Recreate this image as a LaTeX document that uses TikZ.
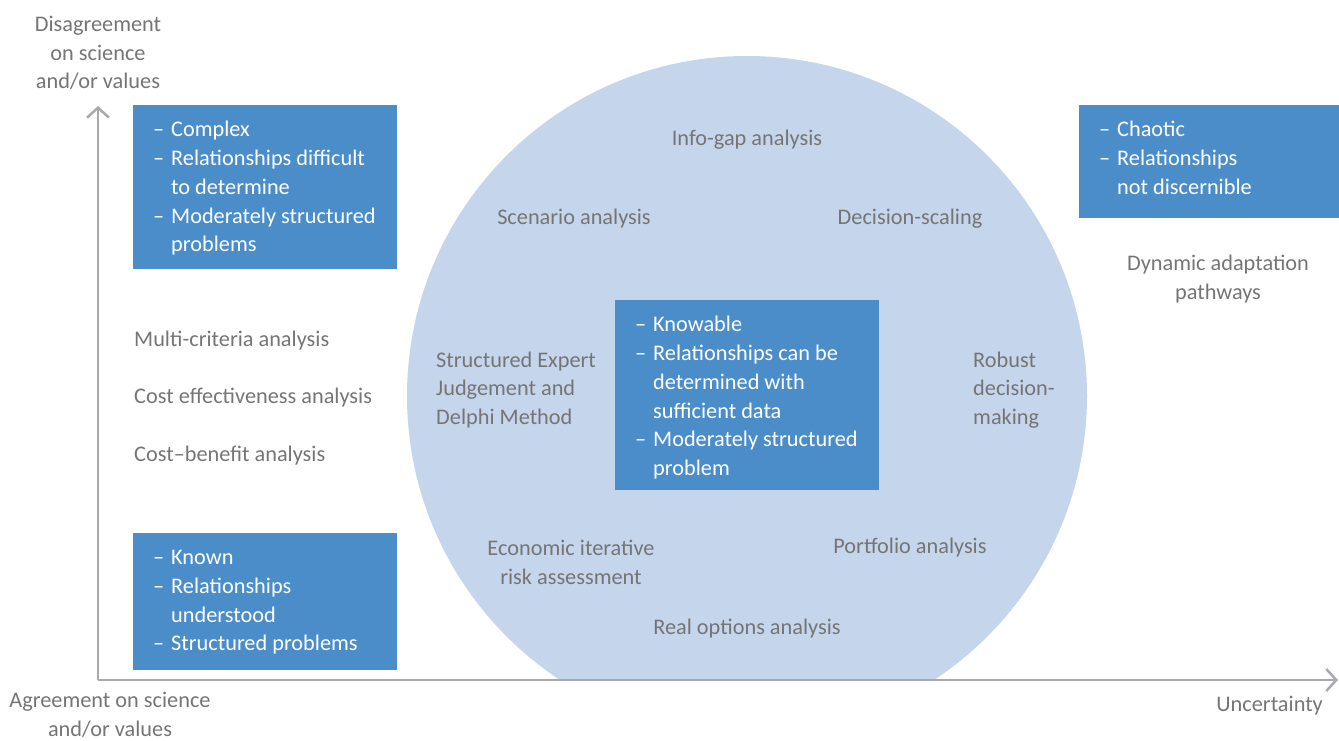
\documentclass[tikz,border=0pt]{standalone}
\usepackage{fontspec}
\setmainfont{Carlito}
\usepackage{tikz}
\usetikzlibrary{arrows.meta, positioning}

\definecolor{boxblue}{RGB}{74,141,201}
\definecolor{circblue}{RGB}{197,213,236}
\definecolor{axisgray}{RGB}{167,169,172}
\definecolor{txtgray}{RGB}{117,117,117}
\newcommand{\fs}{\fontsize{22.3}{28.8}\selectfont}
\newcommand{\itm}{\makebox[18pt][l]{--}}
\newcommand{\ind}{\hspace*{18pt}}

\begin{document}
\begin{tikzpicture}[x=1pt,y=-1pt]
            \useasboundingbox (0,0) rectangle (1339,741);
            % circle of methods, cut by the x axis
            \begin{scope}
                \clip (0,0) rectangle (1339,680);
                \node[circle, fill=circblue, minimum size=680pt, inner sep=0pt] (C) at (747,396) {};
            \end{scope}

            % axes
            \coordinate (O) at (98,680);
            \coordinate (Y) at (98,106);
            \coordinate (X) at (1338,680);
            \begin{scope}[>={Straight Barb[length=10pt,width=22pt]},
                          line width=2.5pt, draw=axisgray]
                \draw[->, axisgray] (O) -- (Y);
                \draw[->, axisgray] (O) -- (X);
            \end{scope}

            % blue boxes
            \begin{scope}[every node/.style={fill=boxblue, inner sep=0pt, anchor=north west}]
                \node[minimum width=264pt, minimum height=164pt] (cx) at (133,105) {};
                \node[minimum width=260pt, minimum height=113pt] (ch) at (1079,105) {};
                \node[minimum width=264pt, minimum height=190pt] (kb) at (615,300) {};
                \node[minimum width=264pt, minimum height=137pt] (kn) at (133,533) {};
            \end{scope}
            \begin{scope}[every node/.style={text=white, font=\fs, align=left, inner sep=0pt, anchor=north west}]
                \node[below right=16pt and 20pt of cx.north west] (cxt)
                    {\itm Complex\\ \itm Relationships difficult\\ \ind to determine\\ \itm Moderately structured\\ \ind problems};
                \node[below right=16pt and 20pt of ch.north west] (cht)
                    {\itm Chaotic\\ \itm Relationships\\ \ind not discernible};
                \node[below right=16pt and 20pt of kb.north west] (kbt)
                    {\itm Knowable\\ \itm Relationships can be\\ \ind determined with\\ \ind sufficient data\\ \itm Moderately structured\\ \ind problem};
                \node[below right=17pt and 20pt of kn.north west] (knt)
                    {\itm Known\\ \itm Relationships\\ \ind understood\\ \itm Structured problems};
            \end{scope}

            \begin{scope}[every node/.style={text=txtgray, font=\fs, inner sep=0pt}]
                \node[align=center] (dis) at (98,53) {Disagreement\\on science\\and/or values};
                \node[align=center] (agr) at (110,715) {Agreement on science\\and/or values};
                \node[anchor=east] (unc) at (1323,706) {Uncertainty};

                \node (info) at (747,140) {Info-gap analysis};
                \node (scen) at (574,219) {Scenario analysis};
                \node (dsc) at (910,219) {Decision-scaling};
                \node[align=center] (dap) at (1218,279) {Dynamic adaptation\\pathways};

                \node[anchor=west] (mca) at (134,341) {Multi-criteria analysis};
                \node[anchor=west] (cea) at (134,398) {Cost effectiveness analysis};
                \node[anchor=west] (cba) at (134,456) {Cost--benefit analysis};

                \node[anchor=west, align=left] (sej) at (436,390) {Structured Expert\\Judgement and\\Delphi Method};
                \node[anchor=west, align=left] (rdm) at (973,390) {Robust\\decision-\\making};

                \node[align=center] (eira) at (571,562) {Economic iterative\\risk assessment};
                \node (port) at (910,548) {Portfolio analysis};
                \node (roa) at (747,629) {Real options analysis};
            \end{scope}
\end{tikzpicture}
\end{document}
